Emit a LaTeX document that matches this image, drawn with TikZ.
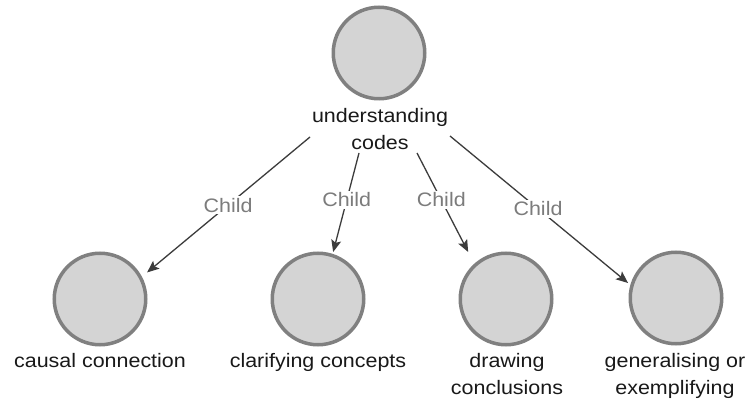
\documentclass[tikz,border=0pt]{standalone}
\usepackage{fontspec}
\setmainfont{Liberation Sans}[FakeStretch=1.1]
\usetikzlibrary{arrows.meta}
\definecolor{ringgray}{HTML}{808080}
\definecolor{discfill}{HTML}{D4D4D4}
\definecolor{linkgray}{HTML}{3C3C3C}
\definecolor{taggray}{HTML}{7C7C7C}
\begin{document}
\begin{tikzpicture}[x=1pt,y=-1pt,
  topic/.style={circle, draw=ringgray, fill=discfill, line width=3.5pt,
    minimum size=91.5pt, inner sep=0pt},
  caption/.style={anchor=north, align=center, inner sep=0pt,
    font=\fontsize{19.5}{27}\selectfont, text=black!90},
  link/.style={draw=linkgray, line width=1.3pt,
    -{Stealth[length=12pt,width=10pt,inset=2.5pt]}},
  tag/.style={fill=white, inner sep=2pt, text=taggray,
    font=\fontsize{19.5}{23}\selectfont}
]
\useasboundingbox (0,0) rectangle (751,403);
\fill[white] (0,0) rectangle (751,403);

% parent topic
\node[topic] (root) at (379,53) {};
\node[caption] (rootlbl) at (380,108) {understanding\\codes};

% child topics
\node[topic] (c1) at (100,299) {};
\node[topic] (c2) at (318,299) {};
\node[topic] (c3) at (506,299) {};
\node[topic] (c4) at (676,298) {};
\node[caption] (l1) at (100,353) {causal connection};
\node[caption] (l2) at (318,353) {clarifying concepts};
\node[caption] (l3) at (507,353) {drawing\\conclusions};
\node[caption] (l4) at (675,353) {generalising or\\exemplifying};

% where the links leave the parent caption
\coordinate (s1) at (310,137);
\coordinate (s2) at (359,153);
\coordinate (s3) at (417,153);
\coordinate (s4) at (450,136);

% links
\draw[link, shorten >=6.7pt] (s1) -- node[tag, pos=0.487] {Child} (c1.28);
\draw[link, shorten >=1.9pt] (s2) -- node[tag, pos=0.466] {Child} (c2.72);
\draw[link, shorten >=13.2pt] (s3) -- node[tag, pos=0.424] {Child} (c3.132);
\draw[link, shorten >=3pt] (s4) -- node[tag, pos=0.488] {Child} (c4.164);
\end{tikzpicture}
\end{document}
